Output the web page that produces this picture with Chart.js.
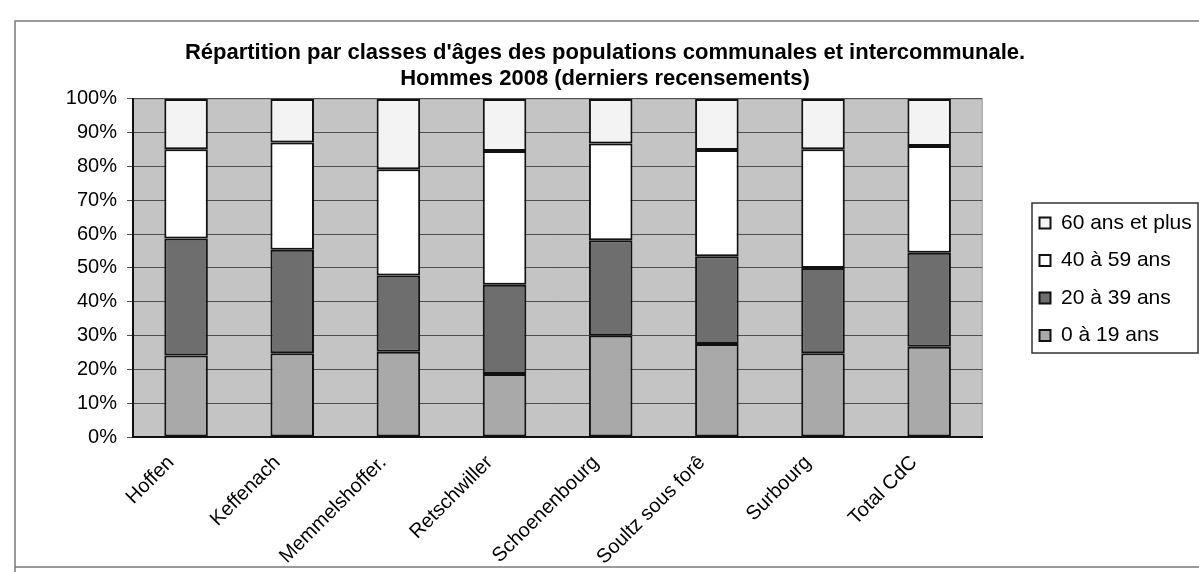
<!DOCTYPE html>
<html lang="fr">
<head>
    <meta charset="UTF-8">
    <title>Répartition par classes d'âges - Hommes 2008</title>
    <style>
        html, body { margin: 0; padding: 0; background: #fff; }
        .chart-box { width: 1199px; height: 572px; position: relative; }
    </style>
</head>
<body>
    <div class="chart-box">
        <canvas id="chartAges"></canvas>
    </div>
    <script src="https://cdn.jsdelivr.net/npm/chart.js"></script>
    <script>
    // communes
    var communes = ['Hoffen', 'Keffenach', 'Memmelshoffer.', 'Retschwiller', 'Schoenenbourg', 'Soultz sous forê', 'Surbourg', 'Total CdC'];

    // parts en % par classe d'âge
    var age0a19 = [24.1, 24.8, 25.2, 18.6, 30.0, 27.5, 24.8, 26.7];
    var age20a39 = [34.6, 30.6, 22.6, 26.4, 28.2, 26.0, 25.2, 27.8];
    var age40a59 = [26.4, 31.7, 31.4, 39.6, 28.6, 31.4, 35.1, 31.6];
    var age60plus = [14.9, 12.9, 20.8, 15.4, 13.2, 15.1, 14.9, 13.9];

    var yTicks = [0, 10, 20, 30, 40, 50, 60, 70, 80, 90, 100];

    var fontFamily = '"Liberation Sans", Arial, sans-serif';

    // fond gris de la zone de tracé + cadre et bordure de légende
    var decorPlugin = {
        id: 'decor',
        beforeDraw: function (chart) {
            var ctx = chart.ctx, a = chart.chartArea;
            ctx.save();
            ctx.fillStyle = '#c4c4c4';
            ctx.fillRect(a.left, a.top, a.right - a.left, a.bottom - a.top);
            ctx.strokeStyle = '#9a9a9a';
            ctx.lineWidth = 1;
            ctx.strokeRect(a.left, a.top, a.right - a.left, a.bottom - a.top);
            ctx.restore();
        },
        afterLayout: function (chart) {
            // déplace la légende à l'endroit du modèle
            var lg = chart.legend;
            var w = lg.right - lg.left;
            lg.left = 1023;
            lg.right = lg.left + w;
            lg.top = 196;
            lg.bottom = 572;
        },
        afterDraw: function (chart) {
            var ctx = chart.ctx, lg = chart.legend;
            ctx.save();
            ctx.strokeStyle = '#333';
            ctx.lineWidth = 1.5;
            ctx.strokeRect(lg.left + 9, lg.top + 7, 166, 150);
            // cadre extérieur
            ctx.strokeStyle = '#7a7a7a';
            ctx.lineWidth = 1.5;
            ctx.beginPath();
            ctx.moveTo(15, 572);
            ctx.lineTo(15, 21);
            ctx.lineTo(1199, 21);
            ctx.moveTo(15, 567);
            ctx.lineTo(1199, 567);
            ctx.stroke();
            ctx.restore();
        }
    };

    function serie(label, data, color) {
        return {
            label: label,
            data: data,
            backgroundColor: color,
            borderColor: '#111',
            borderWidth: 2,
            borderSkipped: false,
            barPercentage: 0.41,
            categoryPercentage: 1.0
        };
    }

    new Chart(document.getElementById('chartAges').getContext('2d'), {
        type: 'bar',
        data: {
            labels: communes,
            datasets: [
                serie('0 à 19 ans', age0a19, '#a9a9a9'),
                serie('20 à 39 ans', age20a39, '#6e6e6e'),
                serie('40 à 59 ans', age40a59, '#ffffff'),
                serie('60 ans et plus', age60plus, '#f3f3f3')
            ]
        },
        options: {
            responsive: true,
            maintainAspectRatio: false,
            animation: false,
            layout: {
                padding: { top: 10, left: 49, right: 38, bottom: 0 }
            },
            scales: {
                x: {
                    stacked: true,
                    grid: { display: false, drawTicks: false },
                    border: { display: true, color: '#111', width: 2 },
                    ticks: {
                        color: '#000',
                        font: { family: fontFamily, size: 20 },
                        minRotation: 45,
                        maxRotation: 45,
                        padding: 14,
                        labelOffset: -15
                    },
                    afterFit: function (scale) { scale.height = 135; }
                },
                y: {
                    stacked: true,
                    min: 0,
                    max: 100,
                    afterBuildTicks: function (scale) {
                        scale.ticks = yTicks.map(function (v) { return { value: v }; });
                    },
                    grid: { color: '#4d4d4d', lineWidth: 1, tickLength: 6 },
                    border: { display: true, color: '#111', width: 2 },
                    ticks: {
                        color: '#000',
                        font: { family: fontFamily, size: 20 },
                        padding: 10,
                        callback: function (v) { return v + '%'; }
                    },
                    afterFit: function (scale) { scale.width = 84; }
                }
            },
            plugins: {
                title: {
                    display: true,
                    text: ["Répartition par classes d'âges des populations communales et intercommunale.", 'Hommes 2008 (derniers recensements)'],
                    color: '#000',
                    font: { family: fontFamily, size: 22, weight: 'bold', lineHeight: 1.18 },
                    padding: { top: 30, bottom: 7 }
                },
                legend: {
                    position: 'right',
                    align: 'start',
                    reverse: true,
                    labels: {
                        color: '#000',
                        boxWidth: 11,
                        boxHeight: 11,
                        padding: 16.5,
                        font: { family: fontFamily, size: 21 }
                    }
                },
                tooltip: { enabled: false }
            }
        },
        plugins: [decorPlugin]
    });
    </script>
</body>
</html>
